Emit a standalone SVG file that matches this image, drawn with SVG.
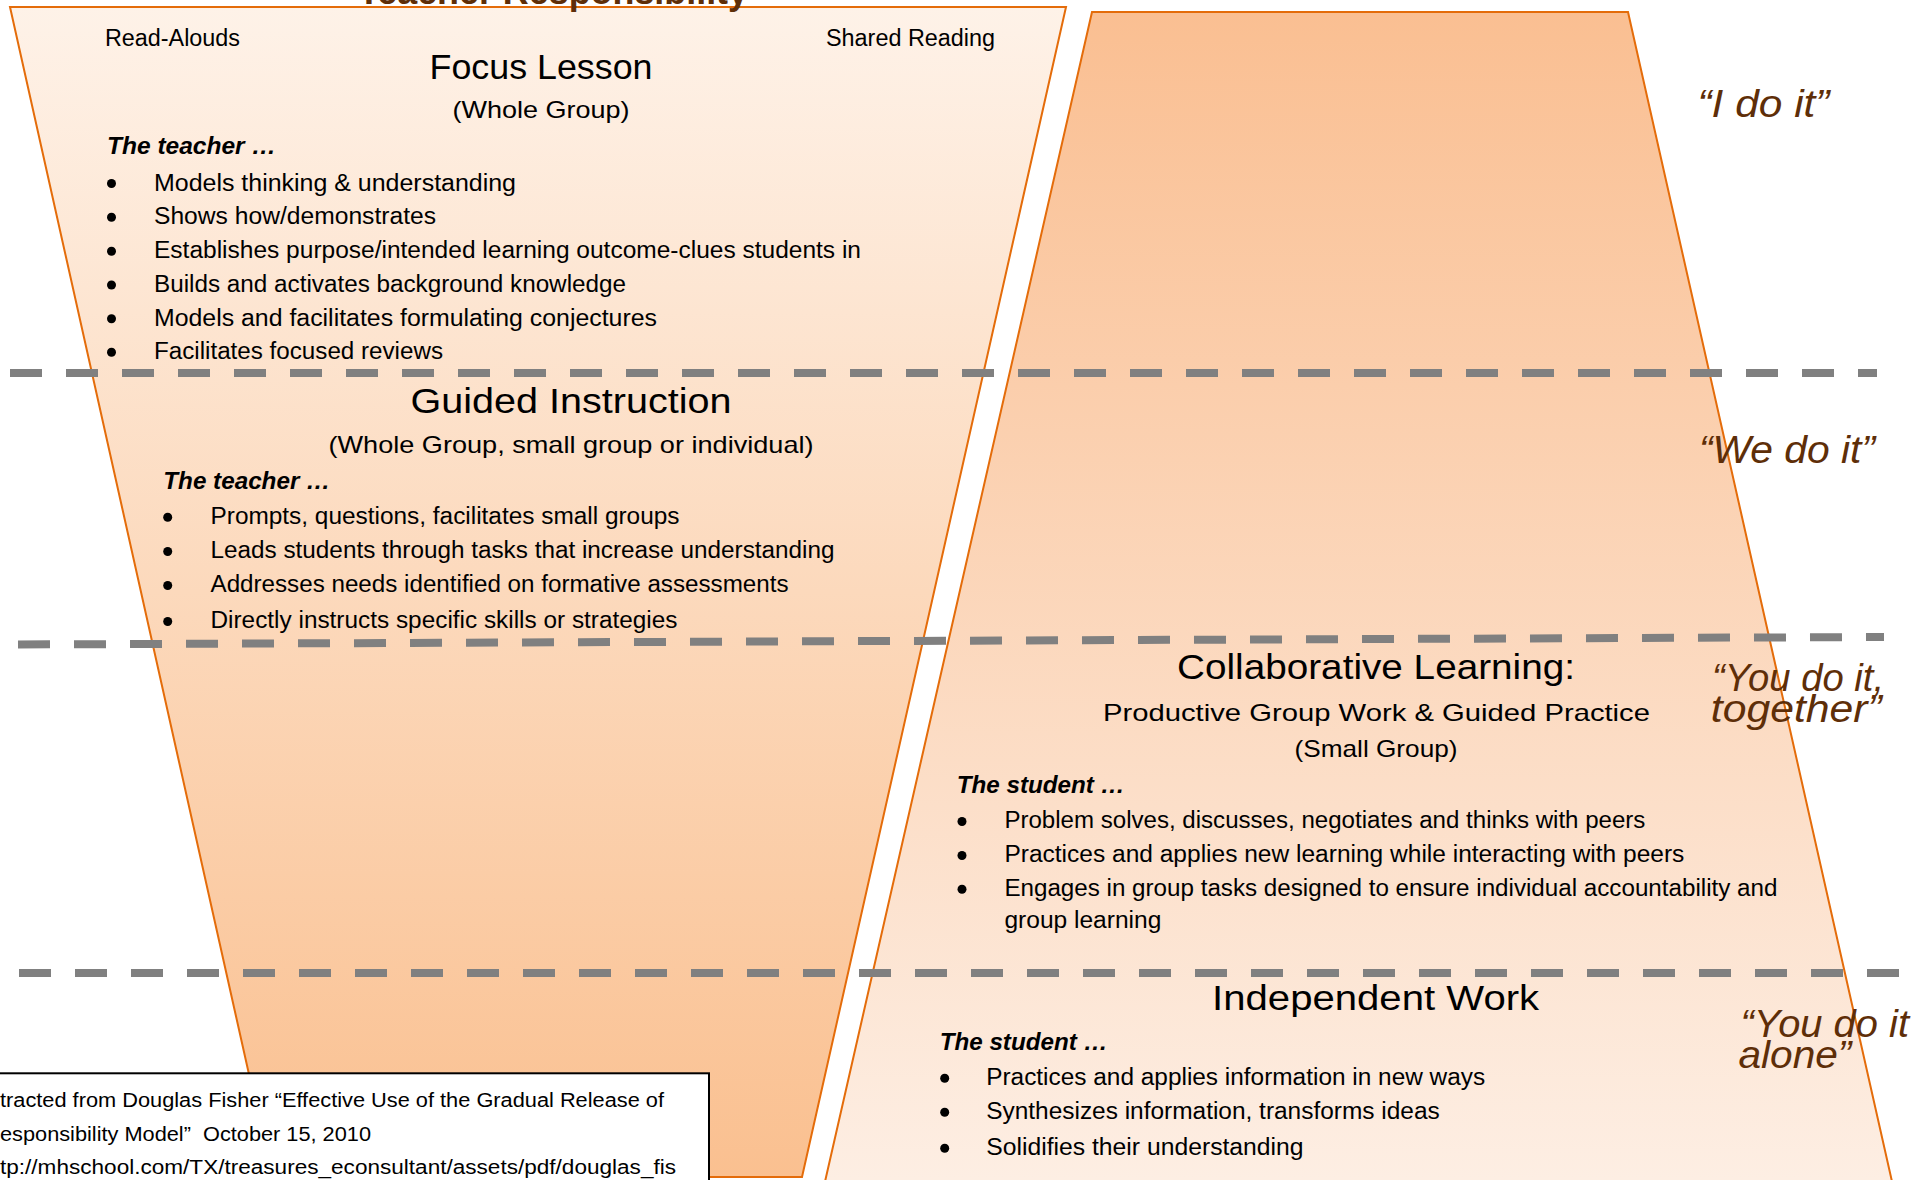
<svg xmlns="http://www.w3.org/2000/svg" width="1923" height="1180" viewBox="0 0 1923 1180">
<defs>
<linearGradient id="gLeft" x1="0" y1="7" x2="0" y2="1177" gradientUnits="userSpaceOnUse">
<stop offset="0" stop-color="#fef2e8"/>
<stop offset="1" stop-color="#fac090"/>
</linearGradient>
<linearGradient id="gRight" x1="0" y1="12" x2="0" y2="1180" gradientUnits="userSpaceOnUse">
<stop offset="0" stop-color="#fabf92"/>
<stop offset="1" stop-color="#fdeee3"/>
</linearGradient>
</defs>
<style>
text{font-family:"Liberation Sans",Arial,sans-serif;fill:#000}
.h{font-size:35px}
.s{font-size:24px}
.b{font-size:23px}
.lead{font-size:24px;font-weight:bold;font-style:italic}
.q{font-size:39px;font-style:italic;fill:#5e2e08}
.ttl{font-size:36px;font-weight:bold;fill:#5e2e08}
.cite{font-size:20px}
.dash{stroke:#808080;stroke-width:8;stroke-dasharray:32 24;fill:none}
.trap{stroke:#e46c0a;stroke-width:2}
.dot{fill:#000}
</style>
<rect x="0" y="0" width="1923" height="1180" fill="#ffffff"/>

<g id="teacher-trapezoid">
<polygon class="trap" fill="url(#gLeft)" points="10,7 1066,7 802,1177 272,1177"/>
</g>
<g id="student-trapezoid">
<polygon class="trap" fill="url(#gRight)" points="1092,12 1628,12 1893,1186 824,1186"/>
</g>

<g id="title">
<text class="ttl" x="358" y="4" textLength="390" lengthAdjust="spacingAndGlyphs">Teacher Responsibility</text>
</g>

<g id="focus-lesson">
<text class="b" x="105" y="46" textLength="135" lengthAdjust="spacingAndGlyphs">Read-Alouds</text>
<text class="b" x="826" y="46" textLength="169" lengthAdjust="spacingAndGlyphs">Shared Reading</text>
<text class="h" x="541" y="79" text-anchor="middle" textLength="223" lengthAdjust="spacingAndGlyphs">Focus Lesson</text>
<text class="s" x="541" y="118" text-anchor="middle" textLength="177" lengthAdjust="spacingAndGlyphs">(Whole Group)</text>
<text class="lead" x="107" y="154" textLength="169" lengthAdjust="spacingAndGlyphs">The teacher …</text>
<circle class="dot" cx="111.5" cy="183.5" r="4.5"/>
<circle class="dot" cx="111.5" cy="217.3" r="4.5"/>
<circle class="dot" cx="111.5" cy="251.3" r="4.5"/>
<circle class="dot" cx="111.5" cy="285" r="4.5"/>
<circle class="dot" cx="111.5" cy="318.7" r="4.5"/>
<circle class="dot" cx="111.5" cy="352.3" r="4.5"/>
<text class="b" x="154" y="190.5" textLength="362" lengthAdjust="spacingAndGlyphs">Models thinking &amp; understanding</text>
<text class="b" x="154" y="224.3" textLength="282" lengthAdjust="spacingAndGlyphs">Shows how/demonstrates</text>
<text class="b" x="154" y="258.3" textLength="707" lengthAdjust="spacingAndGlyphs">Establishes purpose/intended learning outcome-clues students in</text>
<text class="b" x="154" y="292" textLength="472" lengthAdjust="spacingAndGlyphs">Builds and activates background knowledge</text>
<text class="b" x="154" y="325.7" textLength="503" lengthAdjust="spacingAndGlyphs">Models and facilitates formulating conjectures</text>
<text class="b" x="154" y="359.3" textLength="289" lengthAdjust="spacingAndGlyphs">Facilitates focused reviews</text>
</g>

<g id="guided-instruction">
<text class="h" x="571" y="413" text-anchor="middle" textLength="321" lengthAdjust="spacingAndGlyphs">Guided Instruction</text>
<text class="s" x="571" y="453" text-anchor="middle" textLength="485" lengthAdjust="spacingAndGlyphs">(Whole Group, small group or individual)</text>
<text class="lead" x="163.3" y="489" textLength="167" lengthAdjust="spacingAndGlyphs">The teacher …</text>
<circle class="dot" cx="167.7" cy="517.3" r="4.5"/>
<circle class="dot" cx="167.7" cy="551.5" r="4.5"/>
<circle class="dot" cx="167.7" cy="585.5" r="4.5"/>
<circle class="dot" cx="167.7" cy="621.5" r="4.5"/>
<text class="b" x="210.5" y="524" textLength="469" lengthAdjust="spacingAndGlyphs">Prompts, questions, facilitates small groups</text>
<text class="b" x="210.5" y="558.3" textLength="624" lengthAdjust="spacingAndGlyphs">Leads students through tasks that increase understanding</text>
<text class="b" x="210.5" y="592.3" textLength="578" lengthAdjust="spacingAndGlyphs">Addresses needs identified on formative assessments</text>
<text class="b" x="210.5" y="628.3" textLength="467" lengthAdjust="spacingAndGlyphs">Directly instructs specific skills or strategies</text>
</g>

<g id="collaborative-learning">
<text class="h" x="1376" y="679.3" text-anchor="middle" textLength="398" lengthAdjust="spacingAndGlyphs">Collaborative Learning:</text>
<text class="s" x="1376.5" y="720.7" text-anchor="middle" textLength="547" lengthAdjust="spacingAndGlyphs">Productive Group Work &amp; Guided Practice</text>
<text class="s" x="1376" y="756.7" text-anchor="middle" textLength="163" lengthAdjust="spacingAndGlyphs">(Small Group)</text>
<text class="lead" x="956.8" y="792.7" textLength="168" lengthAdjust="spacingAndGlyphs">The student …</text>
<circle class="dot" cx="962" cy="821.5" r="4.5"/>
<circle class="dot" cx="962" cy="855.5" r="4.5"/>
<circle class="dot" cx="962" cy="889.2" r="4.5"/>
<text class="b" x="1004.4" y="828.3" textLength="641" lengthAdjust="spacingAndGlyphs">Problem solves, discusses, negotiates and thinks with peers</text>
<text class="b" x="1004.4" y="862.3" textLength="680" lengthAdjust="spacingAndGlyphs">Practices and applies new learning while interacting with peers</text>
<text class="b" x="1004.4" y="896" textLength="773" lengthAdjust="spacingAndGlyphs">Engages in group tasks designed to ensure individual accountability and</text>
<text class="b" x="1004.4" y="928.3" textLength="157" lengthAdjust="spacingAndGlyphs">group learning</text>
</g>

<g id="independent-work">
<text class="h" x="1375.6" y="1010" text-anchor="middle" textLength="327" lengthAdjust="spacingAndGlyphs">Independent Work</text>
<text class="lead" x="939.7" y="1050" textLength="168" lengthAdjust="spacingAndGlyphs">The student …</text>
<circle class="dot" cx="944.7" cy="1078.2" r="4.5"/>
<circle class="dot" cx="944.7" cy="1112.2" r="4.5"/>
<circle class="dot" cx="944.7" cy="1148.2" r="4.5"/>
<text class="b" x="986.2" y="1085" textLength="499" lengthAdjust="spacingAndGlyphs">Practices and applies information in new ways</text>
<text class="b" x="986.2" y="1119" textLength="453.5" lengthAdjust="spacingAndGlyphs">Synthesizes information, transforms ideas</text>
<text class="b" x="986.2" y="1155" textLength="317.4" lengthAdjust="spacingAndGlyphs">Solidifies their understanding</text>
</g>

<g id="quotes">
<text class="q" x="1697.5" y="116.7" textLength="132" lengthAdjust="spacingAndGlyphs">“I do it”</text>
<text class="q" x="1699" y="463.3" textLength="176" lengthAdjust="spacingAndGlyphs">“We do it”</text>
<text class="q" x="1712" y="690.7" textLength="172" lengthAdjust="spacingAndGlyphs">“You do it,</text>
<text class="q" x="1710.8" y="721.7" textLength="171" lengthAdjust="spacingAndGlyphs">together”</text>
<text class="q" x="1740.5" y="1036.7" textLength="168.5" lengthAdjust="spacingAndGlyphs">“You do it</text>
<text class="q" x="1738.4" y="1068.3" textLength="113" lengthAdjust="spacingAndGlyphs">alone”</text>
</g>

<g id="separators">
<line class="dash" x1="10" y1="373" x2="1877" y2="373"/>
<line class="dash" x1="18" y1="644.5" x2="1884" y2="637"/>
<line class="dash" x1="19" y1="973" x2="1900" y2="973"/>
</g>

<g id="citation">
<rect x="-5" y="1073.3" width="714" height="120" fill="#ffffff" stroke="#000000" stroke-width="2"/>
<text class="cite" x="0" y="1107" textLength="664" lengthAdjust="spacingAndGlyphs">tracted from Douglas Fisher “Effective Use of the Gradual Release of</text>
<text class="cite" x="0" y="1141" xml:space="preserve" textLength="371" lengthAdjust="spacingAndGlyphs">esponsibility Model”  October 15, 2010</text>
<text class="cite" x="0" y="1174" textLength="676" lengthAdjust="spacingAndGlyphs">tp://mhschool.com/TX/treasures_econsultant/assets/pdf/douglas_fis</text>
</g>
</svg>
